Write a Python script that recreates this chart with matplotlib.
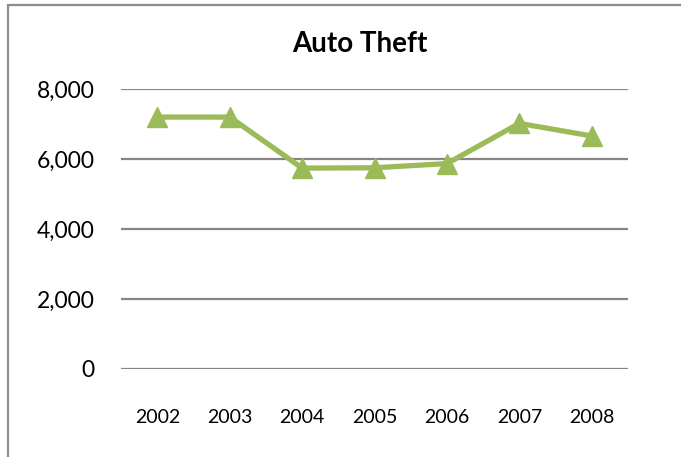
"""
Auto Theft line chart (Excel style), 2002-2008
"""
import matplotlib
matplotlib.use('Agg')
import matplotlib.pyplot as plt
import matplotlib.patches as mpatches
from matplotlib.ticker import FuncFormatter

plt.rcParams.update({
    'font.family': ['Lato', 'DejaVu Sans'],
    'figure.facecolor': 'white',
    'axes.facecolor': 'white',
})

# data
years = ['2002', '2003', '2004', '2005', '2006', '2007', '2008']
thefts = [7200, 7200, 5740, 5750, 5870, 7020, 6660]
y_ticks = [0, 2000, 4000, 6000, 8000]

LINE_COLOR = '#9BBB59'
GRID_COLOR = '#868686'

fig = plt.figure(figsize=(6.81, 4.57), dpi=100)
ax = fig.add_axes([0.178, 0.193, 0.744, 0.612])

# outer chart border (runs off the right and bottom edges)
border = mpatches.Rectangle((8 / 681, -0.1), 1.2, 1.1 - 5.5 / 457,
                            transform=fig.transFigure, fill=False,
                            edgecolor='#8C8C8C', linewidth=1.6, zorder=0)
fig.patches.append(border)

x = range(len(years))
ax.plot(x, thefts, color=LINE_COLOR, linewidth=3.8, marker='^',
        markersize=14, markerfacecolor=LINE_COLOR, markeredgecolor=LINE_COLOR,
        solid_joinstyle='miter', zorder=3, clip_on=False)

ax.set_xlim(-0.5, len(years) - 0.5)
ax.set_ylim(0, 8000)
ax.set_xticks(list(x))
ax.set_xticklabels(years)
ax.set_yticks(y_ticks)
ax.yaxis.set_major_formatter(FuncFormatter(lambda v, p: f'{int(v):,}'))

ax.yaxis.grid(True, color=GRID_COLOR, linewidth=1.6)
ax.set_axisbelow(True)
for s in ax.spines.values():
    s.set_visible(False)
ax.tick_params(axis='both', length=0)
ax.tick_params(axis='y', labelsize=16.5, pad=19, colors='black')
ax.tick_params(axis='x', labelsize=14, pad=29, colors='black')

fig.text(360 / 681, 1 - 44 / 457, 'Auto Theft', ha='center', va='center',
         fontsize=20, fontweight='bold', color='black')

plt.savefig('out.png', dpi=100)
plt.close()
